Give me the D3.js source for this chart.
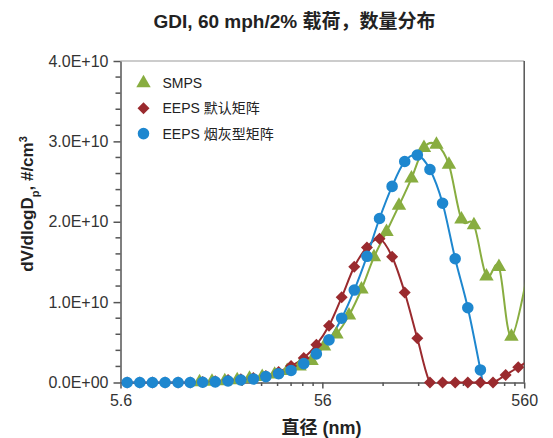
<!DOCTYPE html>
<meta charset="utf-8">
<style>
body {
  margin: 0;
  background: #fff;
  font-family: "Liberation Sans", Arial, "Noto Sans CJK SC", sans-serif;
}
.tick text {
  font-size: 16px;
  fill: #333;
}
.title, .axis-label {
  font-weight: bold;
  fill: #222;
}
.legend text {
  font-size: 14px;
  fill: #222;
}
</style>
<body>
<script src="https://d3js.org/d3.v7.min.js"></script>
<script>

var width = 553,
    height = 438;

var margin = {top: 61, right: 27, bottom: 55, left: 120.5};

// EEPS channel diameters (nm)
var eepsDiam = [6.04, 6.98, 8.06, 9.31, 10.8, 12.4, 14.3, 16.5, 19.1, 22.1, 25.5, 29.4,
  34.0, 39.2, 45.3, 52.3, 60.4, 69.8, 80.6, 93.1, 107.5, 124.1, 143.3, 165.5,
  191.1, 220.7, 254.8, 294.3, 339.8, 392.4, 453.2, 523.3, 604.3];

var eepsDefault = [0, 0, 0, 0, 0, 0, 0.05e9, 0.15e9, 0.3e9, 0.4e9, 0.55e9, 0.8e9,
  1.3e9, 2.06e9, 3.06e9, 4.69e9, 7.06e9, 1.06e10, 1.44e10, 1.68e10, 1.79e10, 1.565e10, 1.12e10, 5.5e9,
  0, 0, 0, 0, 0, 0, 0.94e9, 1.9e9, 2.9e9];

var eepsSoot = [0, 0, 0, 0, 0, 0, 0.03e9, 0.08e9, 0.19e9, 0.31e9, 0.44e9, 0.73e9,
  1.1e9, 1.5e9, 2.35e9, 3.56e9, 5.3e9, 8.0e9, 1.15e10, 1.57e10, 2.04e10, 2.44e10, 2.75e10, 2.83e10,
  2.65e10, 2.23e10, 1.54e10, 9.3e9, 1.56e9, -7e9];

// SMPS diameters (nm)
var smpsDiam = [13.8, 15.9, 18.4, 21.2, 24.4, 28.2, 32.5, 37.5, 43.2, 49.5, 57.1, 65.8,
  75.9, 87.5, 100.9, 116.4, 134.2, 154.8, 178.5, 205.8, 237.3, 273.7, 315.6, 364,
  419.7, 484, 600];

var smps = [0.05e9, 0.12e9, 0.18e9, 0.3e9, 0.5e9, 0.7e9, 1.0e9, 1.45e9, 2.0e9, 2.7e9, 4.5e9, 6.0e9,
  8.35e9, 1.16e10, 1.56e10, 1.875e10, 2.2e10, 2.54e10, 2.92e10, 2.96e10, 2.71e10, 2.03e10, 1.96e10, 1.32e10,
  1.44e10, 5.7e9, 1.55e10];

var yTicks = [0, 1e10, 2e10, 3e10, 4e10];
var xTicks = [5.6, 56, 560];

var series = [
  {name: "SMPS", x: smpsDiam, y: smps, color: "#88ad40", symbol: "triangle"},
  {name: "EEPS 默认矩阵", x: eepsDiam, y: eepsDefault, color: "#9a2a2e", symbol: "diamond"},
  {name: "EEPS 烟灰型矩阵", x: eepsDiam, y: eepsSoot, color: "#1e87cf", symbol: "circle"}
];

var x = d3.scaleLog()
    .domain([5.6, 560])
    .range([margin.left, width - margin.right - 1.8]);

var y = d3.scaleLinear()
    .domain([0, 4e10])
    .range([height - margin.bottom - 0.5, margin.top]);

var svg = d3.select("body").append("svg")
    .attr("width", width)
    .attr("height", height);

svg.append("clipPath")
    .attr("id", "plot-clip")
  .append("rect")
    .attr("x", margin.left)
    .attr("y", 40)
    .attr("width", x(560) - margin.left)
    .attr("height", y(0) + 1.5 - 40);

// frame top/right
svg.append("line")
    .attr("x1", margin.left).attr("x2", x(560))
    .attr("y1", y(4e10)).attr("y2", y(4e10))
    .attr("stroke", "#999").attr("stroke-width", 1.2);
svg.append("line")
    .attr("x1", x(560)).attr("x2", x(560))
    .attr("y1", y(4e10)).attr("y2", y(0))
    .attr("stroke", "#555").attr("stroke-width", 1.5);

// y axis
var yAxis = d3.axisLeft(y)
    .tickValues(yTicks)
    .tickSize(7)
    .tickSizeOuter(0)
    .tickPadding(5)
    .tickFormat(function(d) { return d === 0 ? "0.0E+00" : (d / 1e10).toFixed(1) + "E+10"; });

var gy = svg.append("g")
    .attr("transform", "translate(" + margin.left + ",0)")
    .call(yAxis);

gy.selectAll(".minor")
    .data(d3.range(0, 4e10, 2e9).filter(function(d) { return d % 1e10 !== 0; }))
  .enter().append("line")
    .attr("class", "minor")
    .attr("x1", -5).attr("x2", 0)
    .attr("y1", function(d) { return y(d); })
    .attr("y2", function(d) { return y(d); });

// x axis
var xAxis = d3.axisBottom(x)
    .tickValues(xTicks)
    .tickSize(6)
    .tickSizeOuter(0)
    .tickPadding(6)
    .tickFormat(function(d) { return String(d); });

var gx = svg.append("g")
    .attr("transform", "translate(0," + y(0) + ")")
    .call(xAxis);

var minorX = [];
[5.6, 56].forEach(function(b) {
  for (var k = 2; k <= 9; k++) minorX.push(b * k);
});

gx.selectAll(".minor")
    .data(minorX)
  .enter().append("line")
    .attr("class", "minor")
    .attr("x1", function(d) { return x(d); })
    .attr("x2", function(d) { return x(d); })
    .attr("y1", 0).attr("y2", 3.5);

svg.selectAll(".domain, .tick line, .minor")
    .attr("stroke", "#555")
    .attr("stroke-width", 1.5);

// series
var line = d3.line()
    .curve(d3.curveCardinal.tension(0))
    .x(function(d) { return x(d[0]); })
    .y(function(d) { return y(d[1]); });

function symbolPath(s) {
  if (s === "triangle") return d3.symbol().type(d3.symbolTriangle).size(90)();
  if (s === "diamond") return d3.symbol().type(d3.symbolSquare).size(72)();
  return d3.symbol().type(d3.symbolCircle).size(105)();
}

var plot = svg.append("g").attr("clip-path", "url(#plot-clip)");

series.forEach(function(s) {
  var pts = s.y.map(function(v, i) { return [s.x[i], v]; });

  plot.append("path")
      .datum(pts)
      .attr("fill", "none")
      .attr("stroke", s.color)
      .attr("stroke-width", 2)
      .attr("d", line);

  svg.append("g").selectAll("path")
      .data(pts.filter(function(p) { return p[1] >= 0 && p[0] <= 560; }))
    .enter().append("path")
      .attr("fill", s.color)
      .attr("d", symbolPath(s.symbol))
      .attr("transform", function(p) {
        return "translate(" + x(p[0]) + "," + y(p[1]) + ")" + (s.symbol === "diamond" ? " rotate(45)" : "");
      });
});

// legend
var legend = svg.append("g").attr("class", "legend");
series.forEach(function(s, i) {
  var ly = 83 + i * 25.3;
  legend.append("path")
      .attr("fill", s.color)
      .attr("d", symbolPath(s.symbol))
      .attr("transform", "translate(143.5," + ly + ")" + (s.symbol === "diamond" ? " rotate(45)" : ""));
  legend.append("text")
      .attr("x", 162.5)
      .attr("y", ly)
      .attr("dy", "0.36em")
      .text(s.name);
});

// title and labels
svg.append("text")
    .attr("class", "title")
    .attr("x", 294.5)
    .attr("y", 28)
    .attr("text-anchor", "middle")
    .style("font-size", "19px")
    .text("GDI, 60 mph/2% 载荷，数量分布");

svg.append("text")
    .attr("class", "axis-label")
    .attr("x", 321.5)
    .attr("y", 434)
    .attr("text-anchor", "middle")
    .style("font-size", "18px")
    .text("直径 (nm)");

var yl = svg.append("text")
    .attr("class", "axis-label")
    .attr("transform", "translate(33,204) rotate(-90)")
    .attr("text-anchor", "middle")
    .style("font-size", "17px");
yl.append("tspan").text("dV/dlogD");
yl.append("tspan").attr("baseline-shift", "sub").style("font-size", "11px").text("p");
yl.append("tspan").text(", #/cm");
yl.append("tspan").attr("baseline-shift", "super").style("font-size", "11px").text("3");

</script>
